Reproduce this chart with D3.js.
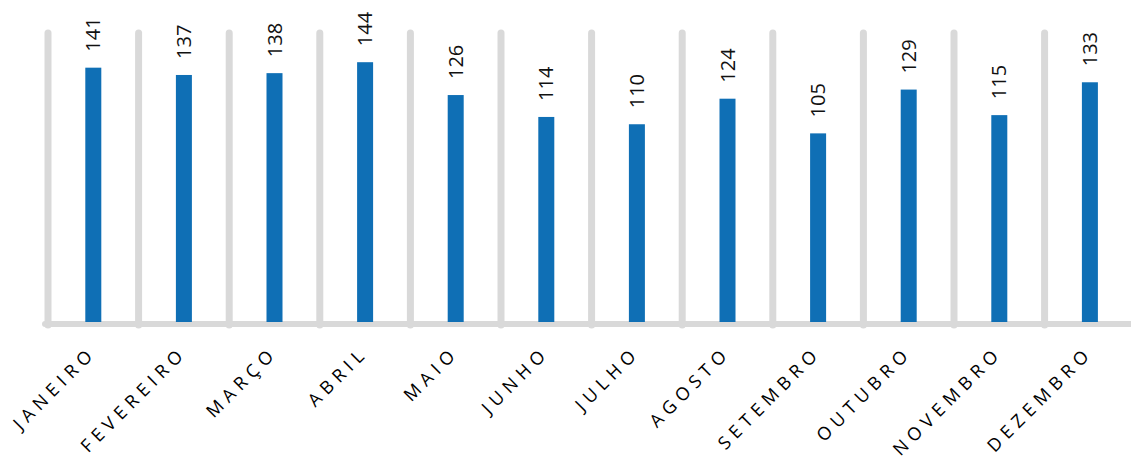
<!DOCTYPE html>
<html>
<head>
<meta charset="utf-8">
<script src="https://cdn.jsdelivr.net/npm/d3@7/dist/d3.min.js"></script>
<style>
  html, body { margin: 0; padding: 0; background: #fff; }
  svg { display: block; }
</style>
</head>
<body>
<svg id="chart" width="1131" height="460"></svg>
<script>
// Monthly totals
const months = ["JANEIRO", "FEVEREIRO", "MARÇO", "ABRIL", "MAIO", "JUNHO",
                "JULHO", "AGOSTO", "SETEMBRO", "OUTUBRO", "NOVEMBRO", "DEZEMBRO"];
const values = [141, 137, 138, 144, 126, 114, 110, 124, 105, 129, 115, 133];
const yDomain = [0, 160];

const svg = d3.select("#chart");
const W = 1131, H = 460;
const left = 48, bandW = 90.6;
const baseY = 325, topY = 33;

const x = d3.scaleBand()
  .domain(months)
  .range([left, left + bandW * months.length])
  .paddingInner(0).paddingOuter(0);

const y = d3.scaleLinear().domain(yDomain).range([baseY, topY]);

const grid = "#d9d9d9";

// Vertical separators between the months
const seps = months.map(m => x(m)).concat([x(months[months.length - 1]) + x.bandwidth()]);
svg.append("g").selectAll("line").data(seps).join("line")
  .attr("x1", d => d).attr("x2", d => d)
  .attr("y1", y(yDomain[1])).attr("y2", baseY)
  .attr("stroke", grid).attr("stroke-width", 7).attr("stroke-linecap", "round");

// Baseline
svg.append("line")
  .attr("x1", left - 3).attr("x2", W + 10)
  .attr("y1", baseY - 1).attr("y2", baseY - 1)
  .attr("stroke", grid).attr("stroke-width", 6).attr("stroke-linecap", "round");

// Bars
const barW = 16;
svg.append("g").selectAll("rect").data(values).join("rect")
  .attr("x", (d, i) => x(months[i]) + x.bandwidth() / 2 - barW / 2)
  .attr("y", d => y(d))
  .attr("width", barW)
  .attr("height", d => baseY - 3 - y(d))
  .attr("fill", "#0f6fb5");

// Value labels, rotated
svg.append("g").selectAll("text").data(values).join("text")
  .attr("transform", (d, i) => {
    const cx = x(months[i]) + x.bandwidth() / 2 + 7;
    const cy = y(d) - 16;
    return `translate(${cx},${cy}) rotate(-90)`;
  })
  .attr("text-anchor", "start")
  .attr("font-family", "'Open Sans', 'Noto Sans', sans-serif")
  .attr("font-size", 20)
  .attr("fill", "#111")
  .text(d => d);

// Month labels, diagonal
svg.append("g").selectAll("text").data(months).join("text")
  .attr("transform", m => {
    const cx = x(m) + x.bandwidth() / 2 + 4;
    const cy = 354;
    return `translate(${cx},${cy}) rotate(-45)`;
  })
  .attr("text-anchor", "end")
  .attr("font-family", "'Open Sans', 'Noto Sans', sans-serif")
  .attr("font-size", 18)
  .attr("letter-spacing", 5.5)
  .attr("fill", "#000")
  .text(m => m);
</script>
</body>
</html>
